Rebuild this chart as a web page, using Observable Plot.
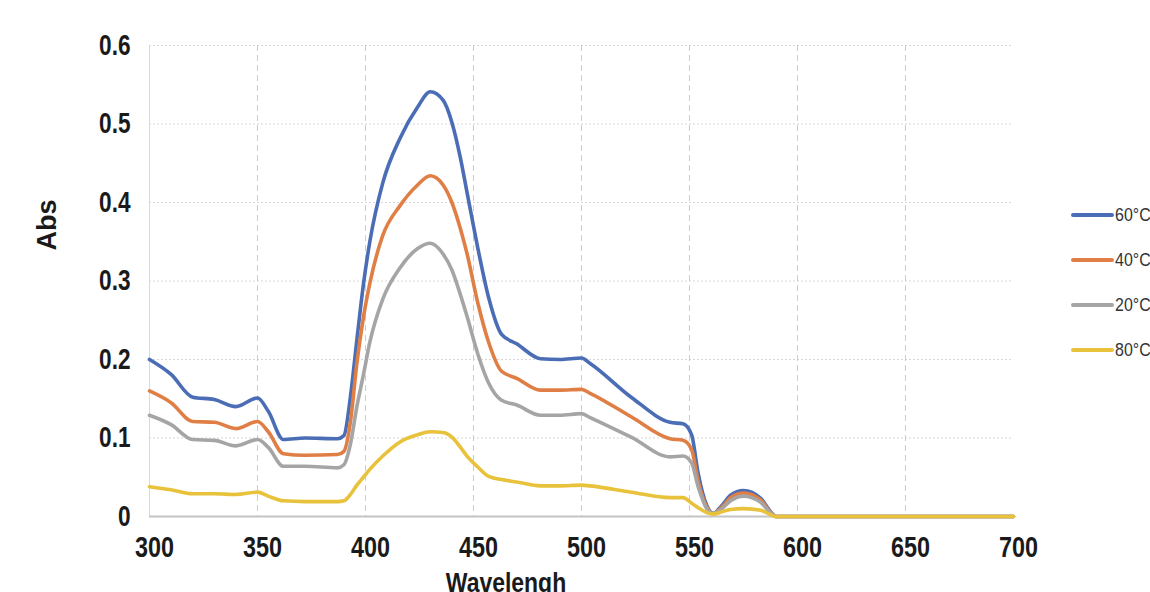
<!DOCTYPE html>
<html>
<head>
<meta charset="utf-8">
<script src="https://cdn.jsdelivr.net/npm/d3@7"></script>
<script src="https://cdn.jsdelivr.net/npm/@observablehq/plot@0.6"></script>
<style>
  html, body { margin: 0; padding: 0; background: #fff; overflow: hidden; }
  #wrap { position: relative; width: 1150px; height: 592px; }
  .ttl { position: absolute; color: #1a1a1a; white-space: nowrap; }
  #ytitle { left: 47px; top: 225px; transform: translate(-50%, -50%) rotate(-90deg);
            font: bold 27px 'Liberation Sans', Arial, sans-serif; }
  #xtitle { left: 506px; top: 567px; transform: translateX(-50%) scaleX(0.82);
            font: bold 28px 'Liberation Sans', Arial, sans-serif; }
  .leg { position: absolute; left: 1071px; height: 18px; display: flex; align-items: center;
         font: 19px 'Liberation Sans', Arial, sans-serif; color: #333; white-space: nowrap; }
  .leg span.sw { display: inline-block; width: 43px; height: 4px; margin-right: 1px; border-radius: 2px; }
  .leg span.lt { display: inline-block; transform: scaleX(0.84); transform-origin: left center; }
</style>
</head>
<body>
<div id="wrap"></div>
<script>
// Wavelength grid (nm)
const wavelengths = [300, 310, 320, 330, 340, 350, 355, 362, 372, 387, 390, 393, 396, 399, 402, 408, 416, 424, 430, 436, 440, 444, 447, 452, 457, 463, 470, 481, 490, 500, 504, 523, 541, 547, 551, 554, 558, 561, 565, 569, 575, 583, 587, 590, 600, 700];

// Absorbance series
const abs60 = [0.200, 0.181, 0.152, 0.149, 0.140, 0.151, 0.134, 0.098, 0.100, 0.099, 0.103, 0.152, 0.225, 0.295, 0.350, 0.425, 0.482, 0.521, 0.541, 0.530, 0.502, 0.456, 0.413, 0.342, 0.279, 0.232, 0.220, 0.201, 0.200, 0.202, 0.195, 0.152, 0.120, 0.118, 0.104, 0.055, 0.014, 0.004, 0.014, 0.027, 0.033, 0.023, 0.008, 0, 0, 0];
const abs40 = [0.160, 0.145, 0.121, 0.120, 0.112, 0.121, 0.108, 0.080, 0.078, 0.079, 0.083, 0.120, 0.195, 0.253, 0.297, 0.358, 0.396, 0.422, 0.434, 0.422, 0.400, 0.366, 0.335, 0.272, 0.222, 0.185, 0.176, 0.161, 0.161, 0.162, 0.157, 0.127, 0.099, 0.097, 0.085, 0.045, 0.012, 0.004, 0.012, 0.024, 0.030, 0.021, 0.007, 0, 0, 0];
const abs20 = [0.129, 0.117, 0.098, 0.097, 0.090, 0.098, 0.088, 0.064, 0.064, 0.062, 0.066, 0.092, 0.140, 0.180, 0.222, 0.277, 0.317, 0.341, 0.348, 0.334, 0.314, 0.282, 0.255, 0.207, 0.170, 0.148, 0.142, 0.129, 0.129, 0.131, 0.126, 0.101, 0.076, 0.077, 0.068, 0.038, 0.010, 0.004, 0.010, 0.020, 0.026, 0.018, 0.006, 0, 0, 0];
const abs80 = [0.038, 0.034, 0.029, 0.029, 0.028, 0.031, 0.026, 0.020, 0.019, 0.019, 0.020, 0.028, 0.040, 0.050, 0.060, 0.077, 0.095, 0.104, 0.108, 0.107, 0.101, 0.088, 0.077, 0.063, 0.051, 0.047, 0.044, 0.039, 0.039, 0.040, 0.039, 0.031, 0.024, 0.024, 0.017, 0.011, 0.005, 0.003, 0.006, 0.009, 0.010, 0.008, 0.003, 0, 0, 0];

const seriesNames = ["60°C", "40°C", "20°C", "80°C"];
const seriesValues = [abs60, abs40, abs20, abs80];
const seriesColors = ["#4a6db5", "#e07f45", "#a5a5a5", "#e8c23a"];

const xTicks = [300, 350, 400, 450, 500, 550, 600, 650, 700];
const yTicks = [0, 0.1, 0.2, 0.3, 0.4, 0.5, 0.6];
const yTickLabels = ["0", "0.1", "0.2", "0.3", "0.4", "0.5", "0.6"];

const rows = [];
seriesNames.forEach((name, i) => {
  wavelengths.forEach((w, j) => rows.push({ wl: w, abs: seriesValues[i][j], series: name }));
});

const chart = Plot.plot({
  width: 1150,
  height: 592,
  marginLeft: 149,
  marginRight: 137,
  marginTop: 45,
  marginBottom: 76,
  x: { domain: [300, 700] },
  y: { domain: [0, 0.6] },
  color: { domain: seriesNames, range: seriesColors },
  style: {
    fontFamily: "'Liberation Sans', Arial, sans-serif",
    fontSize: "29px",
    fontWeight: "bold",
    color: "#1a1a1a",
    background: "white",
    overflow: "visible"
  },
  marks: [
    Plot.gridY(yTicks.filter(v => v > 0), { stroke: "#d6d6d6", strokeOpacity: 1, strokeDasharray: "2,2" }),
    Plot.gridX(xTicks.filter(v => v > 300 && v < 700), { stroke: "#cdcdcd", strokeOpacity: 1, strokeDasharray: "6,4" }),
    Plot.ruleX([300], { stroke: "#d9d9d9" }),
    Plot.ruleY([0], { stroke: "#c4c4c4", strokeWidth: 2 }),
    Plot.axisX(xTicks, { tickSize: 0, tickPadding: 19, dx: 5, label: null, fontWeight: "bold", fontSize: 30 }),
    Plot.axisY(yTicks, { tickSize: 0, tickPadding: 19, label: null, fontWeight: "bold", fontSize: 29,
      tickFormat: d => yTickLabels[yTicks.indexOf(d)] }),
    Plot.line(rows, { x: "wl", y: "abs", z: "series", stroke: "series", curve: "monotone-x",
      strokeWidth: 3.6, strokeLinejoin: "round", strokeLinecap: "round" })
  ]
});

const wrap = document.getElementById("wrap");
wrap.appendChild(chart);

// Condense the tick labels horizontally (the reference uses a narrow face)
chart.querySelectorAll('g[aria-label="x-axis tick label"] text, g[aria-label="y-axis tick label"] text').forEach(t => {
  const len = t.getComputedTextLength();
  if (len > 0) {
    t.setAttribute("textLength", (len * 0.78).toFixed(2));
    t.setAttribute("lengthAdjust", "spacingAndGlyphs");
  }
});

const yt = document.createElement("div");
yt.className = "ttl"; yt.id = "ytitle"; yt.textContent = "Abs";
wrap.appendChild(yt);
const xt = document.createElement("div");
xt.className = "ttl"; xt.id = "xtitle"; xt.textContent = "Wavelengh";
wrap.appendChild(xt);

const legTops = [206, 251, 296, 341];
seriesNames.forEach((name, i) => {
  const d = document.createElement("div");
  d.className = "leg";
  d.style.top = legTops[i] + "px";
  const sw = document.createElement("span");
  sw.className = "sw";
  sw.style.background = seriesColors[i];
  d.appendChild(sw);
  const lt = document.createElement("span");
  lt.className = "lt";
  lt.textContent = name;
  d.appendChild(lt);
  wrap.appendChild(d);
});
</script>
</body>
</html>
